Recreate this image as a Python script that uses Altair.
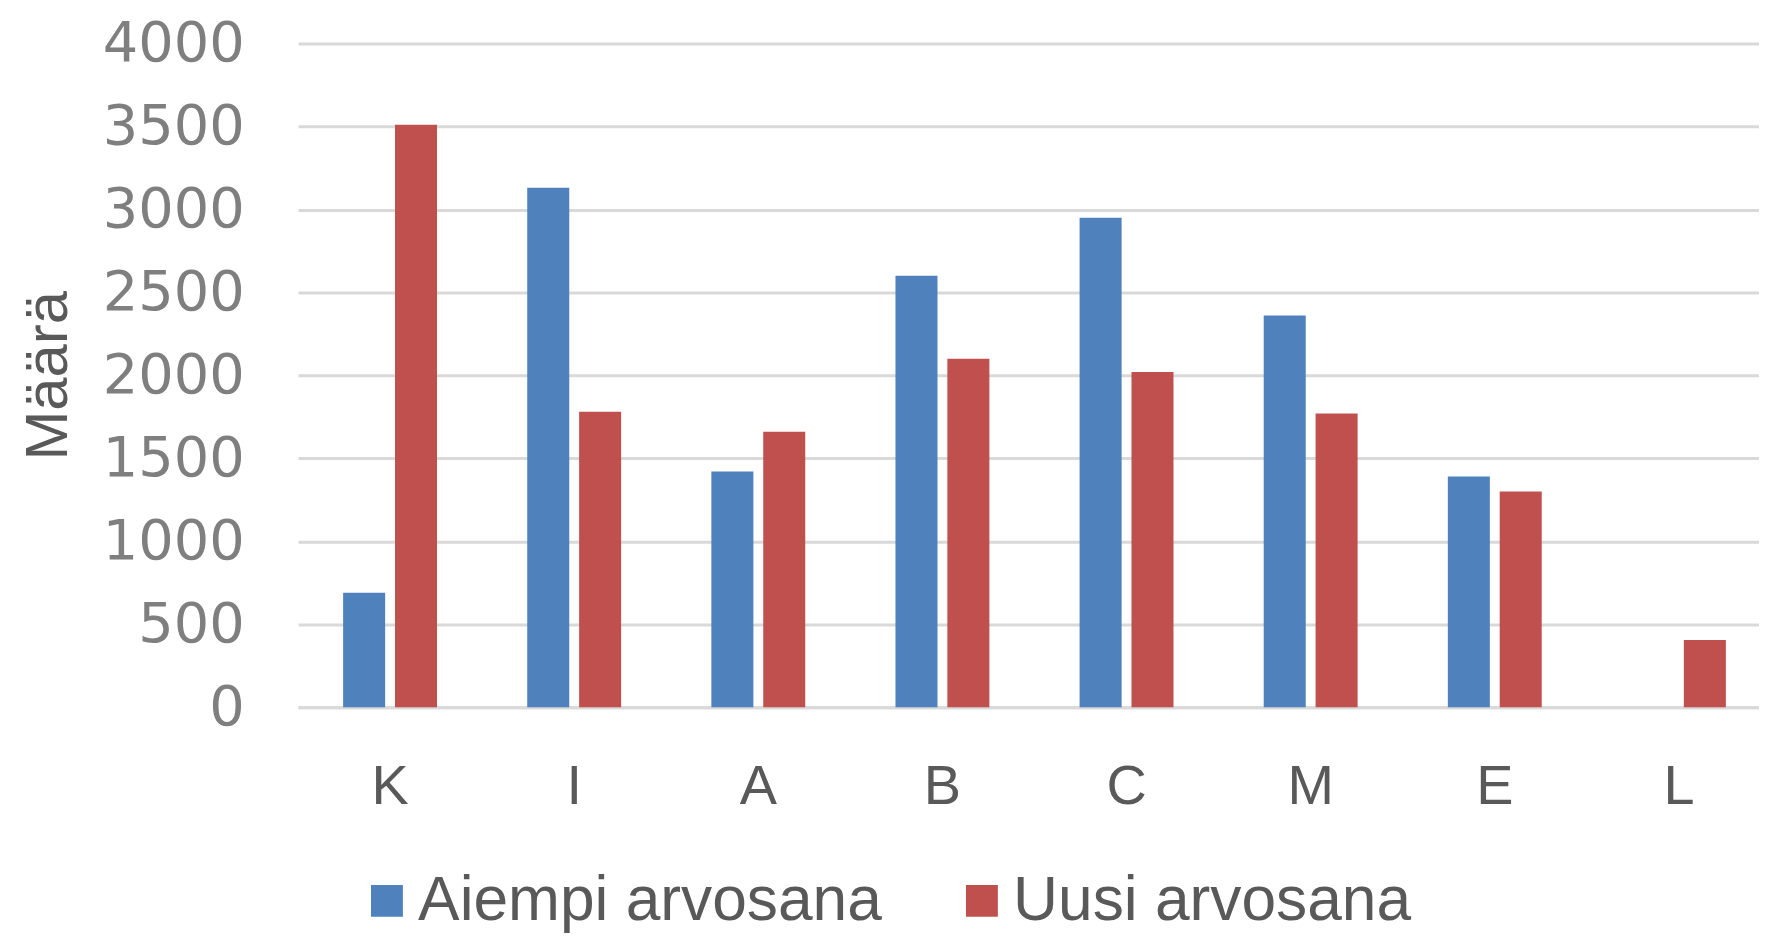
import altair as alt
import pandas as pd

categories = ["K", "I", "A", "B", "C", "M", "E", "L"]
aiempi = [690, 3130, 1420, 2600, 2950, 2360, 1390, 0]
uusi = [3510, 1780, 1660, 2100, 2020, 1770, 1300, 405]
series = ["Aiempi arvosana", "Uusi arvosana"]
colors = ["#4f81bd", "#c0504d"]
y_ticks = [0, 500, 1000, 1500, 2000, 2500, 3000, 3500, 4000]

rows = []
for c, a, u in zip(categories, aiempi, uusi):
    rows.append({"cat": c, "series": series[0], "value": a})
    rows.append({"cat": c, "series": series[1], "value": u})
df = pd.DataFrame(rows)

chart = alt.Chart(df).mark_bar().encode(
    x=alt.X("cat:N", sort=categories, title=None,
            scale=alt.Scale(paddingInner=0.49, paddingOuter=0.245, range=[0, 1478]),
            axis=alt.Axis(labelAngle=0, labelFont="Liberation Sans", labelFontSize=56,
                          labelColor="#595959", labelPadding=53, ticks=False, tickSize=0,
                          domainColor="#d9d9d9", domainWidth=3, grid=False)),
    xOffset=alt.XOffset("series:N", sort=series,
                        scale=alt.Scale(paddingInner=0.19, paddingOuter=0)),
    y=alt.Y("value:Q", title="Määrä",
            scale=alt.Scale(domain=[0, 4000], nice=False),
            axis=alt.Axis(values=y_ticks, format="d", labelFont="DejaVu Sans", labelFontSize=56,
                          labelColor="#7f7f7f", labelPadding=54, ticks=False, tickSize=0,
                          domain=False, gridColor="#d9d9d9", gridWidth=3,
                          titleFont="Liberation Sans", titleFontSize=60, titleColor="#595959",
                          titleFontWeight="normal", titleAngle=270, titleX=-232, titleY=333,
                          titleAlign="center", titleBaseline="alphabetic")),
    color=alt.Color("series:N", sort=series,
                    scale=alt.Scale(domain=series, range=colors),
                    legend=alt.Legend(title=None, orient="none", legendX=58, legendY=829,
                                      direction="horizontal", symbolType="square",
                                      symbolSize=1024, symbolStrokeWidth=0,
                                      labelFont="Liberation Sans", labelFontSize=62.5,
                                      labelColor="#595959", labelOffset=0,
                                      columnPadding=68, padding=0, labelLimit=1000)),
).properties(
    width=1466, height=666,
    background="white",
    autosize=alt.AutoSizeParams(type="none"),
    padding={"left": 291, "top": 34, "right": 0, "bottom": 228},
).configure_view(strokeWidth=0, stroke="transparent")

chart.save("out.html", embed_options={"renderer": "svg", "actions": False})
